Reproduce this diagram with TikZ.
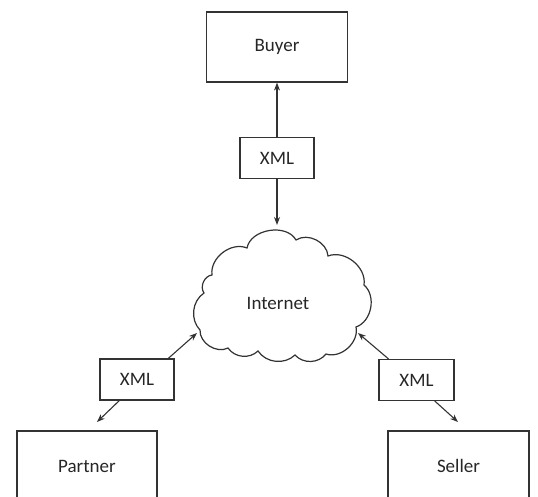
\documentclass[tikz,border=0pt]{standalone}
\usepackage{fontspec}
\setmainfont{Carlito}
\usetikzlibrary{positioning,arrows.meta}

\begin{document}
\begin{tikzpicture}[x=1pt,y=-1pt,
 party/.style={draw=black!80,line width=1.2pt,minimum width=141pt,minimum height=70pt,font=\fontsize{19}{22}\selectfont,text=black!85},
 xmlbox/.style={draw=black!80,line width=1.2pt,minimum width=74pt,minimum height=41pt,font=\fontsize{19}{22}\selectfont,text=black!85},
 flow/.style={draw=black!80,line width=1.1pt,-{Stealth[length=8pt,width=6pt]}}]
 \clip (0,0) rectangle (538,497);

 %Parties
 \node (buyer) [party] at (277,47) {Buyer};
 \node (partner) [party,minimum width=140pt] at (87,466) {Partner};
 \node (seller) [party] at (458.5,466) {Seller};

 %XML messages
 \node (xmltop) [xmlbox] at (277,158) {XML};
 \node (xmlleft) [xmlbox] at (137,379.5) {XML};
 \node (xmlright) [xmlbox,minimum width=75pt] at (416.5,380) {XML};

 %Cloud
 \draw[black!80,line width=1.2pt] (212,275) to[bend left=60] (247,248) to[bend left=70] (296,240)
   to[bend left=60] (328,256) to[bend left=60] (364,285) to[bend left=60] (356,327)
   to[bend left=60] (326,354) to[bend left=50] (295,355) to[bend left=50] (258,351)
   to[bend left=50] (228,348) to[bend left=60] (200,330) to[bend left=50] (204,293)
   to[bend left=60] cycle;
 \node (internet) [font=\fontsize{19}{22}\selectfont,text=black!85] at (278,303) {Internet};

 %Coordinates
 \coordinate (inetN) at (277,225);
 \coordinate (inetW) at (197,333);
 \coordinate (inetE) at (358,333);
 \coordinate (partnerIn) at (97,422);
 \coordinate (sellerIn) at (458,422);

 %Connectors
 \draw[flow] (xmltop) -- (buyer);
 \draw[flow] (xmltop) -- (inetN);
 \draw[flow] (xmlleft.34) -- (inetW);
 \draw[flow] (xmlleft.-130) -- (partnerIn);
 \draw[flow] (xmlright.143) -- (inetE);
 \draw[flow] (xmlright.-49) -- (sellerIn);
\end{tikzpicture}
\end{document}
